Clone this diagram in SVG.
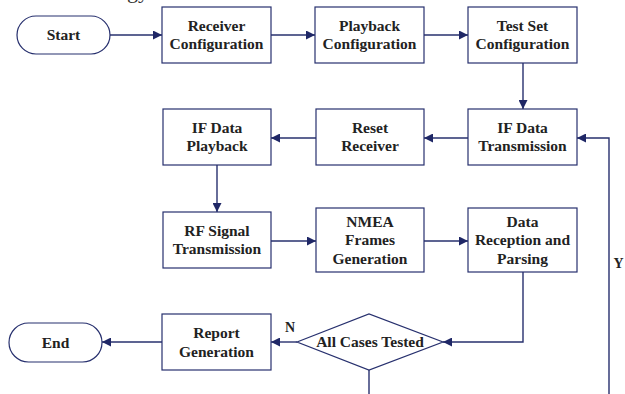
<svg xmlns="http://www.w3.org/2000/svg" width="625" height="394" viewBox="0 0 625 394">
  <style>
    .box { fill: #ffffff; stroke: #27306e; stroke-width: 1.2; }
    .wire { fill: none; stroke: #27306e; stroke-width: 1.4; }
    .lbl { font-family: "Liberation Serif", "Times New Roman", serif; font-weight: bold; font-size: 15.5px; fill: #222222; text-anchor: middle; }
    .tag { font-family: "Liberation Serif", "Times New Roman", serif; font-weight: bold; font-size: 14px; fill: #222222; }
  </style>
  <defs>
    <marker id="arrow" viewBox="0 0 10 10" refX="10" refY="5" markerWidth="9" markerHeight="9" markerUnits="userSpaceOnUse" orient="auto">
      <path d="M0,0 L10,5 L0,10 z" fill="#1f2766"/>
    </marker>
  </defs>
  <rect width="625" height="394" fill="#ffffff"/>

  <!-- caption descenders above the chart -->
  <text x="127" y="-2" font-family="Liberation Serif, serif" font-size="22" fill="#333">gy</text>

  <!-- connectors -->
  <g id="connectors">
    <path class="wire" d="M110,35 H162" marker-end="url(#arrow)"/>
    <path class="wire" d="M271,35 H315" marker-end="url(#arrow)"/>
    <path class="wire" d="M424,35 H468" marker-end="url(#arrow)"/>
    <path class="wire" d="M523,63 V109" marker-end="url(#arrow)"/>
    <path class="wire" d="M468,138 H424" marker-end="url(#arrow)"/>
    <path class="wire" d="M316,138 H271" marker-end="url(#arrow)"/>
    <path class="wire" d="M217,165 V212" marker-end="url(#arrow)"/>
    <path class="wire" d="M271,241 H316" marker-end="url(#arrow)"/>
    <path class="wire" d="M424,241 H468" marker-end="url(#arrow)"/>
    <path class="wire" d="M523,272 V342 H443" marker-end="url(#arrow)"/>
    <path class="wire" d="M297,342 H271" marker-end="url(#arrow)"/>
    <path class="wire" d="M162,342 H102" marker-end="url(#arrow)"/>
    <path class="wire" d="M369,370 V394"/>
    <path class="wire" d="M609,394 V138 H577" marker-end="url(#arrow)"/>
    <text class="tag" x="285" y="332">N</text>
    <text class="tag" x="613.5" y="268">Y</text>
  </g>

  <g id="start">
    <rect class="box" x="17" y="16" width="93" height="38" rx="19"/>
    <text class="lbl" x="63.5" y="40">Start</text>
  </g>
  <g id="receiver-config">
    <rect class="box" x="162" y="7" width="109" height="56"/>
    <text class="lbl" x="216.5" y="30.5">Receiver</text>
    <text class="lbl" x="216.5" y="49">Configuration</text>
  </g>
  <g id="playback-config">
    <rect class="box" x="315" y="7" width="109" height="56"/>
    <text class="lbl" x="369.5" y="30.5">Playback</text>
    <text class="lbl" x="369.5" y="49">Configuration</text>
  </g>
  <g id="test-set-config">
    <rect class="box" x="468" y="7" width="109" height="56"/>
    <text class="lbl" x="522.5" y="30.5">Test Set</text>
    <text class="lbl" x="522.5" y="49">Configuration</text>
  </g>

  <g id="if-data-transmission">
    <rect class="box" x="468" y="109" width="109" height="56"/>
    <text class="lbl" x="522.5" y="132.5">IF Data</text>
    <text class="lbl" x="522.5" y="151">Transmission</text>
  </g>
  <g id="reset-receiver">
    <rect class="box" x="316" y="109" width="108" height="56"/>
    <text class="lbl" x="370" y="132.5">Reset</text>
    <text class="lbl" x="370" y="151">Receiver</text>
  </g>
  <g id="if-data-playback">
    <rect class="box" x="163" y="109" width="108" height="56"/>
    <text class="lbl" x="217" y="132.5">IF Data</text>
    <text class="lbl" x="217" y="151">Playback</text>
  </g>

  <g id="rf-signal-transmission">
    <rect class="box" x="163" y="212" width="108" height="56"/>
    <text class="lbl" x="217" y="235.5">RF Signal</text>
    <text class="lbl" x="217" y="254">Transmission</text>
  </g>
  <g id="nmea-frames-generation">
    <rect class="box" x="316" y="208" width="108" height="64"/>
    <text class="lbl" x="370" y="226.5">NMEA</text>
    <text class="lbl" x="370" y="245">Frames</text>
    <text class="lbl" x="370" y="263.5">Generation</text>
  </g>
  <g id="data-reception-parsing">
    <rect class="box" x="468" y="208" width="109" height="64"/>
    <text class="lbl" x="522.5" y="226.5">Data</text>
    <text class="lbl" x="522.5" y="245">Reception and</text>
    <text class="lbl" x="522.5" y="263.5">Parsing</text>
  </g>

  <g id="all-cases-tested">
    <path class="box" d="M297,342 L369,314 L443,342 L369,370 z"/>
    <text class="lbl" x="370" y="347">All Cases Tested</text>
  </g>
  <g id="report-generation">
    <rect class="box" x="162" y="314" width="109" height="56"/>
    <text class="lbl" x="216.5" y="338">Report</text>
    <text class="lbl" x="216.5" y="357">Generation</text>
  </g>
  <g id="end">
    <rect class="box" x="9" y="323" width="93" height="39" rx="19.5"/>
    <text class="lbl" x="55.5" y="348">End</text>
  </g>
</svg>
